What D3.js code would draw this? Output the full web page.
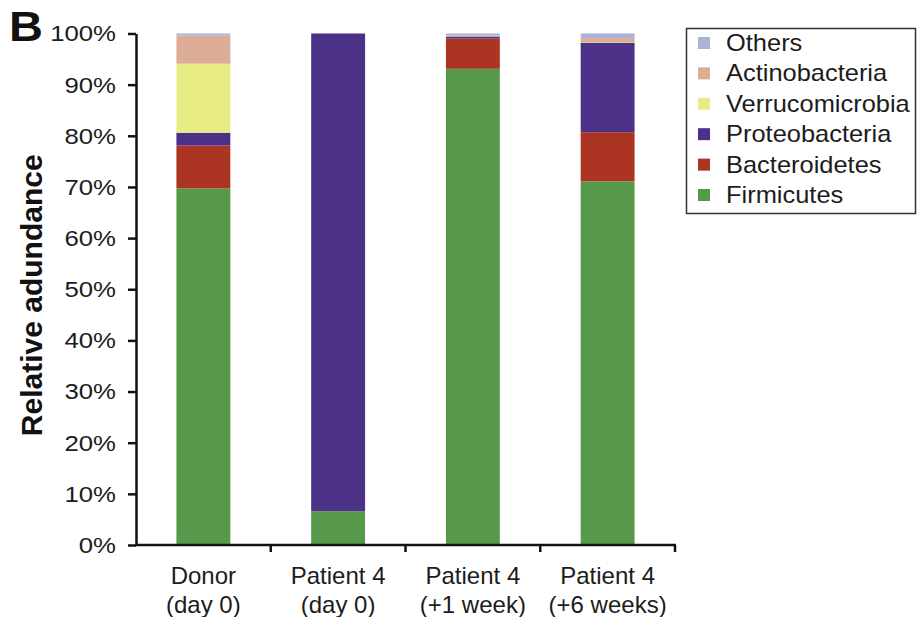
<!DOCTYPE html>
<html>
<head>
<meta charset="utf-8">
<script src="https://cdn.jsdelivr.net/npm/d3@7/dist/d3.min.js"></script>
<style>
  html, body { margin: 0; padding: 0; background: #fff; }
  svg { display: block; font-family: "Liberation Sans", Arial, sans-serif; }
</style>
</head>
<body>
<svg id="chart" width="918" height="617"></svg>
<script>
// Samples along the x axis (two-line labels)
const samples = [
  ["Donor", "(day 0)"],
  ["Patient 4", "(day 0)"],
  ["Patient 4", "(+1 week)"],
  ["Patient 4", "(+6 weeks)"]
];

// Phyla, bottom of the stack first
const phyla = ["Firmicutes", "Bacteroidetes", "Proteobacteria", "Verrucomicrobia", "Actinobacteria", "Others"];
const phylumColors = ["#57994a", "#ab3423", "#4b3188", "#e8ec85", "#dcad94", "#aab4d4"];

// Relative abundance (%) per phylum, one value per sample
const firmicutes      = [69.7, 6.6, 93.1, 71.1];
const bacteroidetes   = [8.4, 0.0, 5.9, 9.6];
const proteobacteria  = [2.5, 93.4, 0.4, 17.5];
const verrucomicrobia = [13.5, 0.0, 0.0, 0.1];
const actinobacteria  = [5.5, 0.0, 0.2, 0.8];
const others          = [0.4, 0.0, 0.4, 0.9];

const yTicks = [0, 10, 20, 30, 40, 50, 60, 70, 80, 90, 100];

// Build rows for d3.stack
const seriesValues = [firmicutes, bacteroidetes, proteobacteria, verrucomicrobia, actinobacteria, others];
const rows = samples.map((s, i) => {
  const r = { key: i };
  phyla.forEach((p, j) => { r[p] = seriesValues[j][i]; });
  return r;
});

const svg = d3.select("#chart");
const margin = { left: 136, right: 243, top: 33.5, bottom: 72 };
const W = 918, H = 617;
const textColor = "#1c1c1c";

// Places a text at (px, py) with a slight horizontal widening of its glyphs
function placeWide(sel, px, py, sx) {
  sel.attr("x", null).attr("y", null)
    .attr("transform", (d, i) => `translate(${typeof px === "function" ? px(d, i) : px},${typeof py === "function" ? py(d, i) : py}) scale(${sx},1)`);
}

const x = d3.scaleBand()
  .domain(samples.map((s, i) => i))
  .range([margin.left, W - margin.right])
  .paddingInner(0.6)
  .paddingOuter(0.3);

const y = d3.scaleLinear()
  .domain([0, 100])
  .range([H - margin.bottom, margin.top]);

const color = d3.scaleOrdinal().domain(phyla).range(phylumColors);

const stacked = d3.stack().keys(phyla)(rows);

// Bars
svg.append("g")
  .selectAll("g")
  .data(stacked)
  .join("g")
  .attr("fill", d => color(d.key))
  .selectAll("rect")
  .data(d => d)
  .join("rect")
  .attr("x", d => x(d.data.key))
  .attr("width", x.bandwidth())
  .attr("y", d => y(d[1]))
  .attr("height", d => Math.max(0, y(d[0]) - y(d[1])));

// Y axis
const tickSx = 1.12;
const yAxis = svg.append("g")
  .attr("transform", `translate(${margin.left},0)`)
  .call(d3.axisLeft(y).tickValues(yTicks).tickFormat(d => d + "%").tickSize(8).tickPadding(14).tickSizeOuter(0));
yAxis.select(".domain").attr("stroke", "#111").attr("stroke-width", 2.5);
yAxis.selectAll(".tick line").attr("stroke", "#111").attr("stroke-width", 2.5);
yAxis.selectAll(".tick text")
  .attr("fill", textColor)
  .style("font-size", "23px")
  .attr("transform", `translate(-20,0) scale(${tickSx},1)`)
  .attr("x", 0);

// X axis: baseline with ticks at the category boundaries
const x0 = margin.left, x1 = W - margin.right;
const step = (x1 - x0) / samples.length;
const xAxisG = svg.append("g");
xAxisG.append("line")
  .attr("x1", x0 - 1).attr("x2", x1 + 1)
  .attr("y1", y(0)).attr("y2", y(0))
  .attr("stroke", "#111").attr("stroke-width", 2.5);
xAxisG.selectAll("line.tk")
  .data(d3.range(1, samples.length + 1))
  .join("line")
  .attr("class", "tk")
  .attr("x1", i => x0 + i * step).attr("x2", i => x0 + i * step)
  .attr("y1", y(0)).attr("y2", y(0) + 7)
  .attr("stroke", "#111").attr("stroke-width", 2.5);

const xl = svg.append("g")
  .selectAll("text")
  .data(samples)
  .join("text")
  .attr("x", (d, i) => x(i) + x.bandwidth() / 2)
  .attr("y", 584)
  .attr("text-anchor", "middle")
  .attr("fill", textColor)
  .style("font-size", "24px");
xl.append("tspan").attr("x", (d, i) => x(i) + x.bandwidth() / 2).text(d => d[0]);
xl.append("tspan").attr("x", (d, i) => x(i) + x.bandwidth() / 2).attr("dy", 29).text(d => d[1]);

// Y axis title
svg.append("text")
  .attr("transform", `translate(42, ${(y(0) + y(100)) / 2 + 6}) rotate(-90)`)
  .attr("text-anchor", "middle")
  .attr("fill", "#111")
  .style("font-size", "30px")
  .style("font-weight", "bold")
  .text("Relative adundance");

// Panel letter
svg.append("text")
  .attr("fill", "#111")
  .style("font-size", "42px")
  .style("font-weight", "bold")
  .text("B")
  .call(placeWide, 9, 41, 1.12);

// Legend, top entry first
const legend = svg.append("g");
legend.append("rect")
  .attr("x", 686.5).attr("y", 28.5)
  .attr("width", 229).attr("height", 185)
  .attr("fill", "#fff")
  .attr("stroke", "#333").attr("stroke-width", 1.5);
const legendItems = phyla.slice().reverse();
const li = legend.selectAll("g.item")
  .data(legendItems)
  .join("g")
  .attr("class", "item")
  .attr("transform", (d, i) => `translate(0, ${43 + i * 30.4})`);
li.append("rect")
  .attr("x", 698).attr("y", -6)
  .attr("width", 12).attr("height", 12)
  .attr("fill", d => color(d));
li.append("text")
  .attr("fill", textColor)
  .style("font-size", "24px")
  .text(d => d)
  .call(placeWide, 726, 8, 1.06);
</script>
</body>
</html>
